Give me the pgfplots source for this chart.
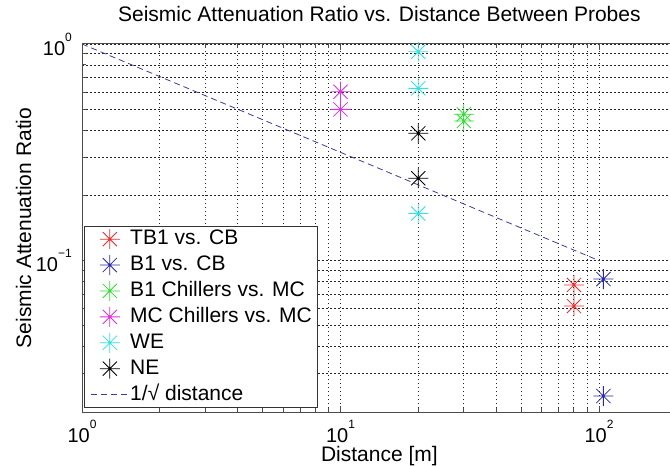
\documentclass[border=0pt]{standalone}
\usepackage{fontspec}
\setmainfont{Liberation Sans}
\usepackage{pgfplots}
\pgfplotsset{compat=1.18}
\definecolor{mred}{RGB}{235,45,45}
\definecolor{mblue}{RGB}{40,40,170}
\definecolor{mgreen}{RGB}{50,220,50}
\definecolor{mmag}{RGB}{220,50,220}
\definecolor{mcyan}{RGB}{50,225,225}
\definecolor{mdash}{RGB}{60,60,150}
\pgfdeclareplotmark{mstar}{%
  \pgfpathmoveto{\pgfqpoint{-\pgfplotmarksize}{0pt}}%
  \pgfpathlineto{\pgfqpoint{\pgfplotmarksize}{0pt}}%
  \pgfpathmoveto{\pgfqpoint{0pt}{-\pgfplotmarksize}}%
  \pgfpathlineto{\pgfqpoint{0pt}{\pgfplotmarksize}}%
  \pgfpathmoveto{\pgfqpoint{-0.7071\pgfplotmarksize}{-0.7071\pgfplotmarksize}}%
  \pgfpathlineto{\pgfqpoint{0.7071\pgfplotmarksize}{0.7071\pgfplotmarksize}}%
  \pgfpathmoveto{\pgfqpoint{-0.7071\pgfplotmarksize}{0.7071\pgfplotmarksize}}%
  \pgfpathlineto{\pgfqpoint{0.7071\pgfplotmarksize}{-0.7071\pgfplotmarksize}}%
  \pgfusepathqstroke}
\newcommand{\tsup}[1]{\raisebox{14bp}{\fontsize{12bp}{12bp}\selectfont #1}}
\begin{document}
\begin{tikzpicture}
\useasboundingbox (0,0) rectangle (670bp,466bp);
\clip (0,0) rectangle (670bp,466bp);
\begin{loglogaxis}[
  at={(82bp,54bp)}, anchor=south west, scale only axis,
  width=594.8bp, height=368bp,
  xmin=1, xmax=200, ymin=0.02, ymax=1,
  xtick={1,10,100}, xticklabels={10\tsup{0},10\tsup{1},10\tsup{2}},
  ytick={0.1,1}, yticklabels={10\tsup{−1},10\tsup{0}},
  minor xtick={2,3,4,5,6,7,8,9,20,30,40,50,60,70,80,90,200},
  minor ytick={0.02,0.03,0.04,0.05,0.06,0.07,0.08,0.09,0.2,0.3,0.4,0.5,0.6,0.7,0.8,0.9},
  tick label style={font=\fontsize{20bp}{24bp}\selectfont},
  xticklabel style={anchor=base, inner sep=0pt, yshift=-30bp},
  yticklabel style={anchor=east, inner sep=0pt, xshift=-10bp},
  xmajorgrids=true, xminorgrids=true, ymajorgrids=true, yminorgrids=true,
  grid style={dash pattern=on 1.5bp off 2.5bp, black!85, line width=0.9bp},
  major grid style={dash pattern=on 1.5bp off 2.5bp, black!85, line width=0.9bp},
  minor grid style={dash pattern=on 1.5bp off 2.5bp, black!85, line width=0.9bp},
  axis line style={black!70, line width=1bp},
  tick style={black!70, line width=1bp},
  tick align=inside, major tick length=6bp, minor tick length=4bp,
  title={Seismic Attenuation Ratio vs. Distance Between Probes},
  title style={font=\fontsize{21bp}{25bp}\selectfont, at={(axis description cs:0.5,1.0462)}, anchor=base, inner sep=0pt},
  xlabel={Distance [m]},
  xlabel style={font=\fontsize{21bp}{25bp}\selectfont, at={(axis description cs:0.5,-0.13315)}, anchor=base, inner sep=0pt},
  ylabel={Seismic Attenuation Ratio},
  ylabel style={font=\fontsize{21bp}{25bp}\selectfont, at={(axis description cs:-0.08574,0.5)}, anchor=base, inner sep=0pt},
  legend style={at={(axis description cs:0.00336,0.01087)}, anchor=south west,
    draw=black!80, line width=0.9bp, fill=white, inner xsep=6bp, inner ysep=3bp,
    row sep=5.9bp, column sep=1bp, font=\fontsize{21bp}{25bp}\selectfont,
    nodes={inner sep=0pt, text height=15.5bp, text depth=4.5bp}},
  legend cell align=left,
  legend image code/.code={\draw[mark repeat=2,mark phase=2,#1] plot coordinates {(0bp,0bp) (19bp,0bp) (38bp,0bp)};},
]
\addplot[only marks, mark=mstar, mark size=10bp, color=mred, line width=0.8bp] coordinates {(80,0.0772) (80,0.0617)};
\addlegendentry{TB1 vs. CB}
\addplot[only marks, mark=mstar, mark size=10bp, color=mblue, line width=0.8bp] coordinates {(104,0.0822) (104,0.0237)};
\addlegendentry{B1 vs. CB}
\addplot[only marks, mark=mstar, mark size=10bp, color=mgreen, line width=0.8bp] coordinates {(30,0.474) (30,0.441)};
\addlegendentry{B1 Chillers vs. MC}
\addplot[only marks, mark=mstar, mark size=10bp, color=mmag, line width=0.8bp] coordinates {(10,0.602) (10,0.499)};
\addlegendentry{MC Chillers vs. MC}
\addplot[only marks, mark=mstar, mark size=10bp, color=mcyan, line width=0.8bp] coordinates {(20,0.921) (20,0.624) (20,0.165)};
\addlegendentry{WE}
\addplot[only marks, mark=mstar, mark size=10bp, color=black, line width=0.8bp] coordinates {(20,0.387) (20,0.240)};
\addlegendentry{NE}
\addplot[mdash, dash pattern=on 6bp off 4bp, line width=0.8bp] coordinates {(1,1) (100,0.1)};
\addlegendentry{1/√ distance}
\end{loglogaxis}
\end{tikzpicture}
\end{document}
